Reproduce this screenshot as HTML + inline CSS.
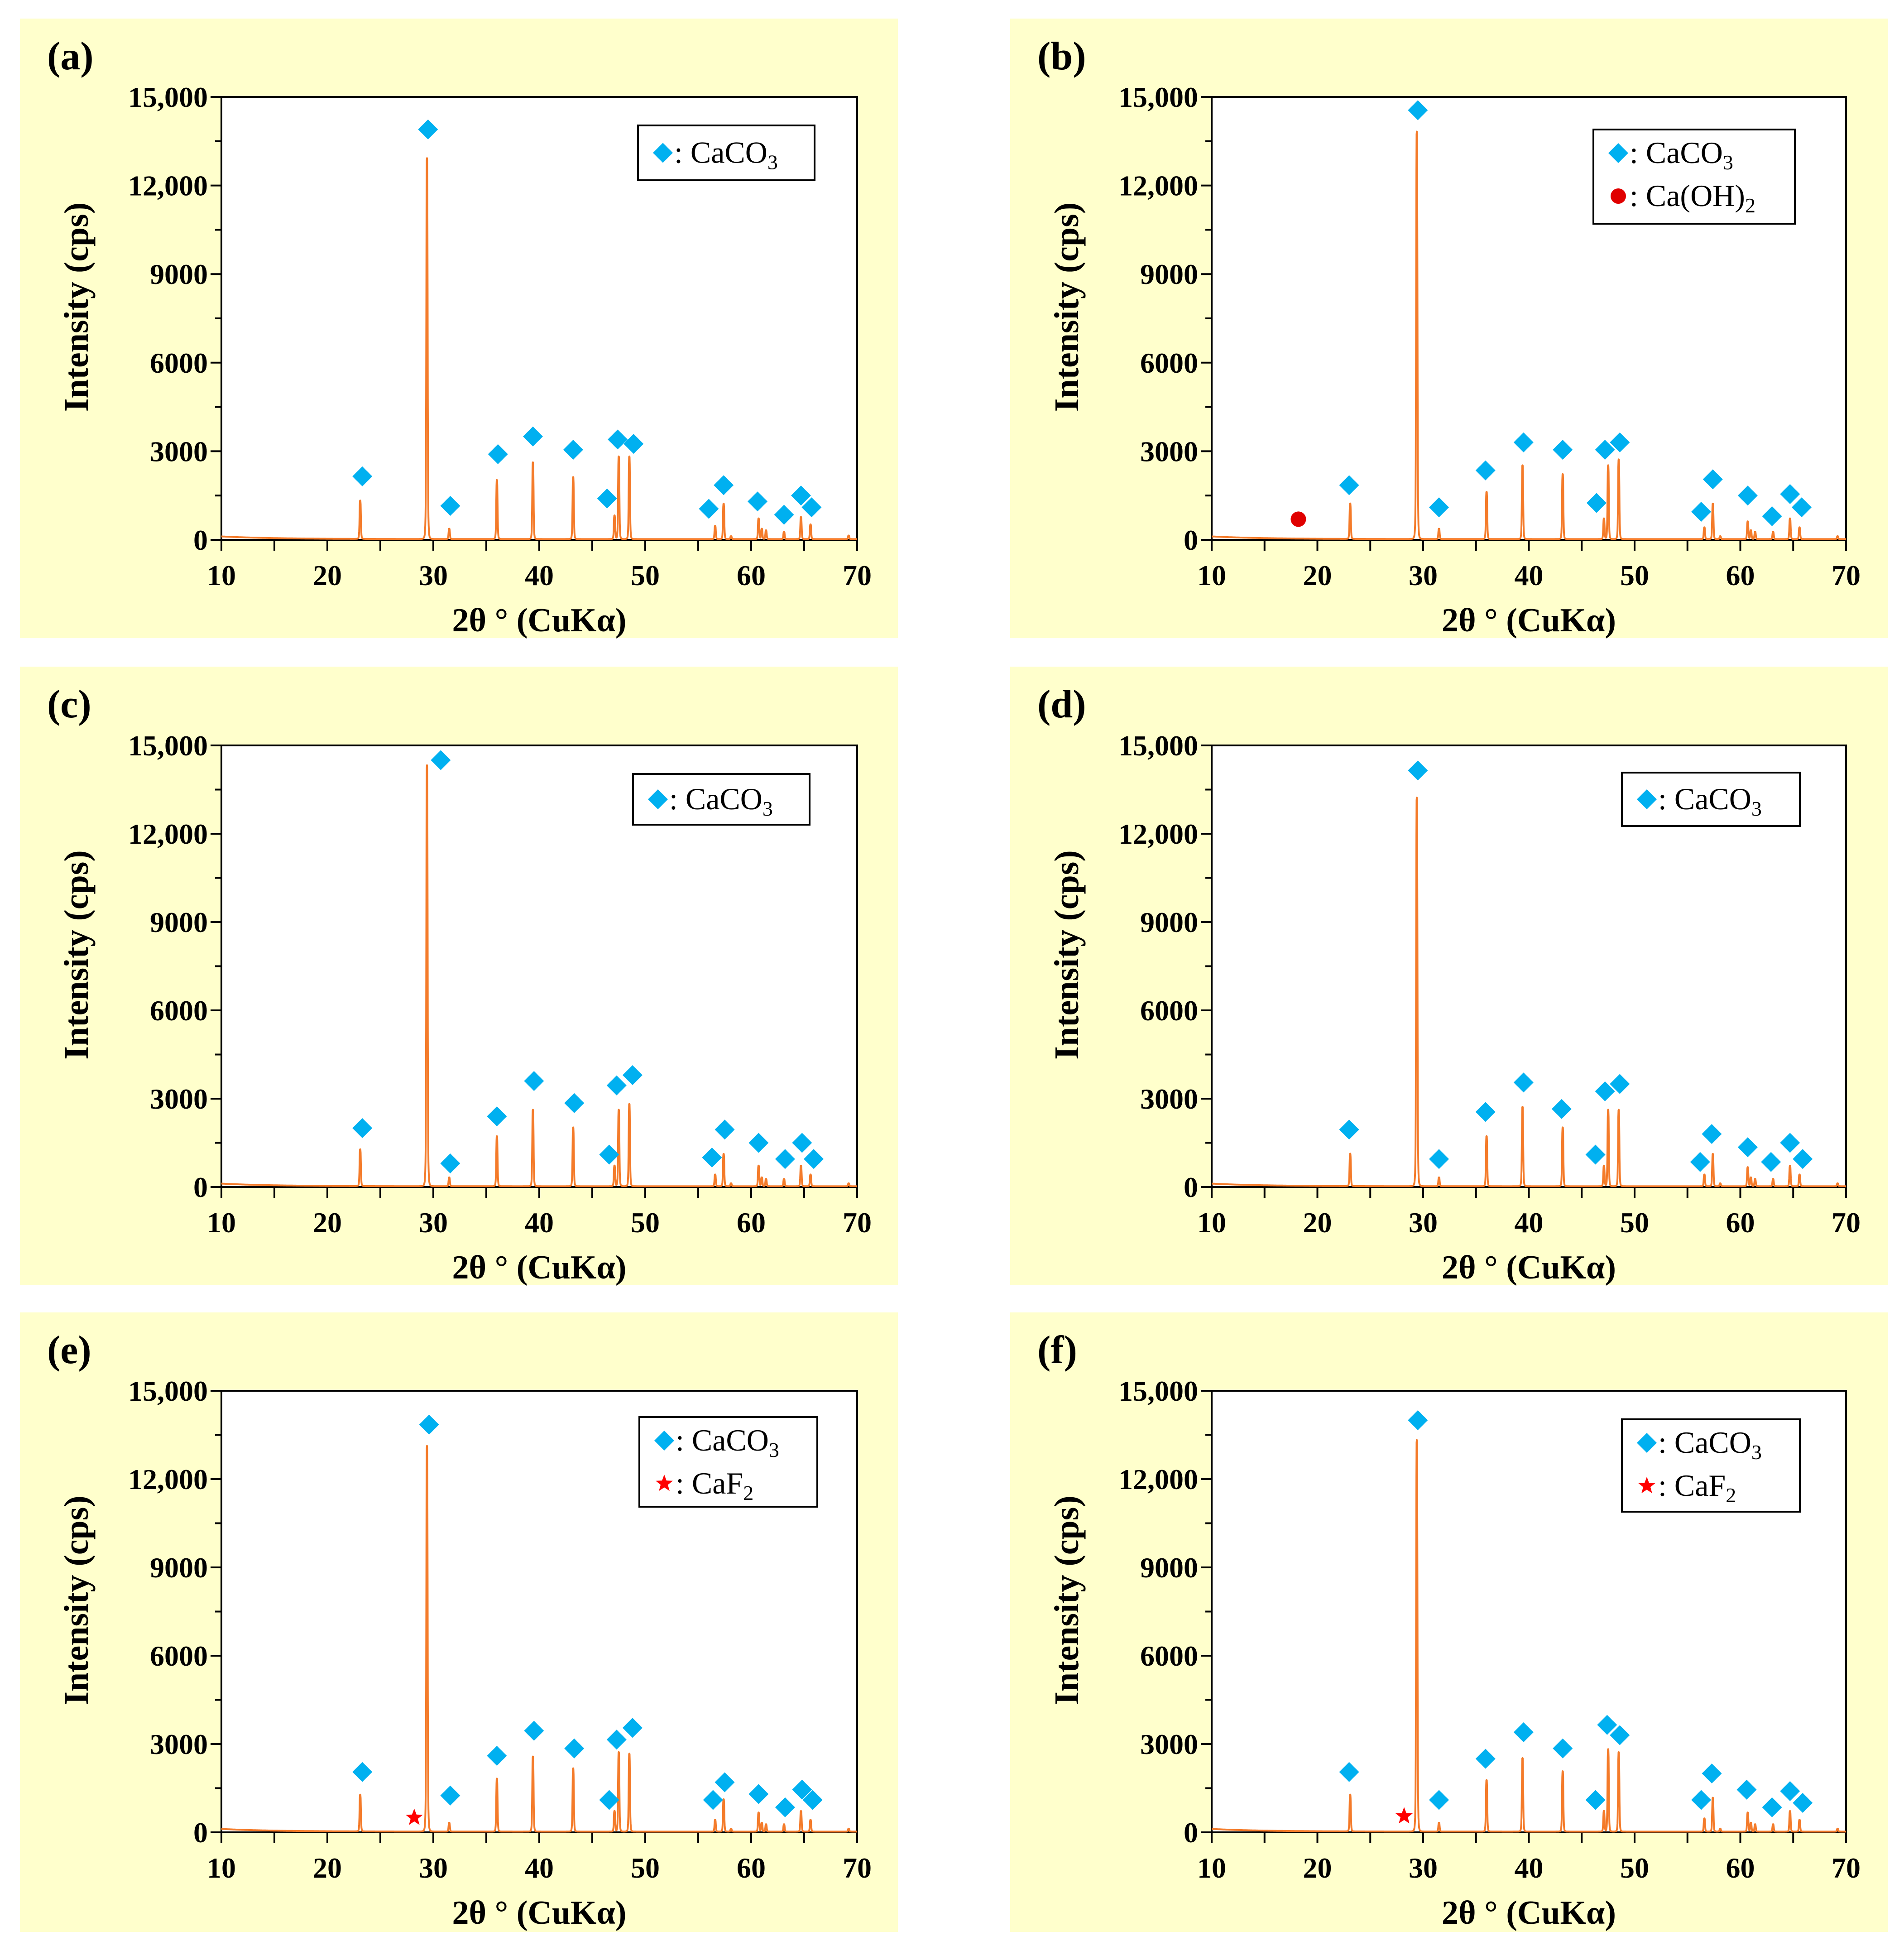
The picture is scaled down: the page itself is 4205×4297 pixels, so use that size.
<!DOCTYPE html>
<html><head><meta charset="utf-8"><style>
html,body{margin:0;padding:0;background:#fff}
svg{display:block}
svg text{font-family:"Liberation Serif","DejaVu Serif",serif !important}
</style></head><body>
<svg id="fig" width="4205" height="4297" viewBox="0 0 4205 4297" xmlns="http://www.w3.org/2000/svg" font-family="Liberation Serif, serif"></svg>
<script>
// ---- data ----
const panelLabels = ["(a)","(b)","(c)","(d)","(e)","(f)"];
const xTicks = [10,20,30,40,50,60,70];
const yTicks = [0,3000,6000,9000,12000,15000];
const yTickLabels = ["0","3000","6000","9000","12,000","15,000"];
const peakPos = [23.1,29.4,31.5,36.0,39.4,43.2,47.1,47.5,48.5,56.6,57.4,58.1,60.7,61.0,61.4,63.1,64.7,65.6,69.2];
const peaksA = [1300,12900,350,2000,2600,2100,800,2800,2800,450,1200,100,700,350,300,250,750,500,120];
const peaksB = [1200,13800,350,1600,2500,2200,700,2500,2700,400,1200,100,600,300,250,250,700,400,100];
const peaksC = [1250,14300,300,1700,2600,2000,700,2600,2800,400,1100,100,700,300,250,250,700,400,100];
const peaksD = [1100,13200,300,1700,2700,2000,700,2600,2600,400,1100,100,650,300,250,250,700,400,100];
const peaksE = [1250,13100,300,1800,2550,2150,700,2700,2650,400,1100,100,650,300,250,250,700,400,100];
const peaksF = [1250,13300,300,1750,2500,2050,700,2800,2700,450,1150,100,650,300,250,250,700,400,100];
const markA = [[23.3,2150],[29.5,13900],[31.6,1150],[36.1,2900],[39.4,3500],[43.2,3050],[46.4,1400],[47.4,3400],[48.9,3250],[56.0,1050],[57.4,1850],[60.6,1300],[63.1,850],[64.7,1500],[65.7,1100]];
const markB = [[23.0,1850],[29.5,14550],[31.5,1100],[35.9,2350],[39.5,3300],[43.2,3050],[46.4,1250],[47.2,3050],[48.6,3300],[56.3,950],[57.4,2050],[60.7,1500],[63.0,800],[64.7,1550],[65.8,1100]];
const markC = [[23.3,2000],[30.7,14500],[31.6,800],[36.0,2400],[39.5,3600],[43.3,2850],[46.6,1100],[47.3,3450],[48.8,3800],[56.3,1000],[57.5,1950],[60.7,1500],[63.2,950],[64.8,1500],[65.9,950]];
const markD = [[23.0,1950],[29.5,14150],[31.5,950],[35.9,2550],[39.5,3550],[43.1,2650],[46.3,1100],[47.2,3250],[48.6,3500],[56.2,850],[57.3,1800],[60.7,1350],[62.9,850],[64.7,1500],[65.9,950]];
const markE = [[23.3,2050],[29.6,13850],[31.6,1250],[36.0,2600],[39.5,3450],[43.3,2850],[46.6,1100],[47.3,3150],[48.8,3550],[56.4,1100],[57.5,1700],[60.7,1300],[63.2,850],[64.8,1450],[65.8,1100]];
const markF = [[23.0,2050],[29.5,14000],[31.5,1100],[35.9,2500],[39.5,3400],[43.2,2850],[46.3,1100],[47.4,3650],[48.6,3300],[56.3,1100],[57.3,2000],[60.6,1450],[63.0,850],[64.7,1400],[65.9,1000]];
const circleB = [[18.2,700]];
const starE = [[28.2,500]];
const starF = [[28.2,550]];

const NS="http://www.w3.org/2000/svg";
const FF="Liberation Serif, serif";
const svg=document.getElementById('fig');
function mk(tag,attrs,parent){const e=document.createElementNS(NS,tag);for(const k in attrs)e.setAttribute(k,attrs[k]);if(tag==='text')e.setAttribute('font-family',FF);(parent||svg).appendChild(e);return e;}

const colX=[{bg:44,bgw:1939,px:489,pw:1404},{bg:2231,bgw:1939,px:2676,pw:1401}];
const rowY=[{bg:41,bgh:1368,py:214,ph:978},{bg:1472,bgh:1366,py:1646,ph:975},{bg:2898,bgh:1368,py:3071,ph:975}];
const panels=[
 {peaks:peaksA,marks:markA,leg:[1409,277,390,121],items:[["d","CaCO","3"]]},
 {peaks:peaksB,marks:markB,extra:circleB,extraType:"c",leg:[3519,286,445,208],items:[["d","CaCO","3"],["c","Ca(OH)","2"]]},
 {peaks:peaksC,marks:markC,leg:[1398,1709,390,112],items:[["d","CaCO","3"]]},
 {peaks:peaksD,marks:markD,leg:[3582,1706,393,118],items:[["d","CaCO","3"]]},
 {peaks:peaksE,marks:markE,extra:starE,extraType:"s",leg:[1412,3129,393,198],items:[["d","CaCO","3"],["s","CaF","2"]]},
 {peaks:peaksF,marks:markF,extra:starF,extraType:"s",leg:[3582,3134,393,204],items:[["d","CaCO","3"],["s","CaF","2"]]}
];
function diamond(g,cx,cy,r){return mk('polygon',{points:`${cx},${cy-r} ${cx+r},${cy} ${cx},${cy+r} ${cx-r},${cy}`,fill:'#00B0F0'},g);}
function star(g,cx,cy,r){let pts=[];for(let i=0;i<10;i++){const a=-Math.PI/2+i*Math.PI/5;const rr=i%2?r*0.42:r;pts.push((cx+rr*Math.cos(a)).toFixed(1)+','+(cy+rr*Math.sin(a)).toFixed(1));}return mk('polygon',{points:pts.join(' '),fill:'#FF0000'},g);}
function sym(g,t,cx,cy){if(t==='d')return diamond(g,cx,cy,22);if(t==='c')return mk('circle',{cx:cx,cy:cy,r:17,fill:'#E00000'},g);return star(g,cx,cy,20);}

panels.forEach((P,i)=>{
 const C=colX[i%2],R=rowY[Math.floor(i/2)];
 const g=mk('g',{});
 
 
 const bg=mk('rect',{x:C.bg,y:R.bg,width:C.bgw,height:R.bgh,fill:'#FFFFCC'},g);
 
 const X=v=>C.px+(v-10)/60*C.pw, Y=v=>R.py+R.ph-(v/15000)*R.ph;
 const pa=mk('rect',{x:C.px,y:R.py,width:C.pw,height:R.ph,fill:'#fff',stroke:'#000','stroke-width':4},g);
 
 const lab=mk('text',{x:C.bg+60,y:R.bg+112,'font-size':88,'font-weight':'bold'},g);lab.textContent=panelLabels[i];
 
 for(let v=0;v<=15000;v+=1500){const y=Y(v);mk('line',{x1:C.px-(v%3000?14:24),x2:C.px,y1:y,y2:y,stroke:'#000','stroke-width':4},g);}
 yTicks.forEach((v,k)=>{const t=mk('text',{x:C.px-30,y:Y(v)+22,'font-size':64,'font-weight':'bold','text-anchor':'end'},g);t.textContent=yTickLabels[k];});
 for(let v=10;v<=70;v+=5){const x=X(v);mk('line',{x1:x,x2:x,y1:R.py+R.ph,y2:R.py+R.ph+24,stroke:'#000','stroke-width':4},g);}
 xTicks.forEach(v=>{const t=mk('text',{x:X(v),y:R.py+R.ph+100,'font-size':64,'font-weight':'bold','text-anchor':'middle'},g);t.textContent=v;});
 const xt=mk('text',{x:C.px+C.pw/2,y:R.py+R.ph+202,'font-size':74,'font-weight':'bold','text-anchor':'middle'},g);xt.textContent='2θ ° (CuKα)';
 
 const yc=R.py+R.ph/2-25;
 const yt=mk('text',{x:C.bg+150,y:yc,'font-size':76,'font-weight':'bold','text-anchor':'middle',transform:`rotate(-90 ${C.bg+150} ${yc})`},g);yt.textContent='Intensity (cps)';
 
 let d='';
 for(let x=10;x<=70.0001;x+=0.02){let y=25+90*Math.exp(-(x-10)/5);P.peaks.forEach((h,k)=>{const u=(x-peakPos[k])/0.07;y+=h/(1+u*u*u*u);});d+=(d?'L':'M')+X(x).toFixed(1)+','+Y(y).toFixed(1);}
 const line=mk('path',{d:d,fill:'none',stroke:'#F47B2A','stroke-width':4,'stroke-linejoin':'round'},g);
 
 P.marks.forEach(m=>{const s=diamond(g,X(m[0]),Y(m[1]),22);});
 if(P.extra)P.extra.forEach(m=>{const s=sym(g,P.extraType,X(m[0]),Y(m[1]));});
 const L=P.leg;
 const lg=mk('g',{},g);
 mk('rect',{x:L[0],y:L[1],width:L[2],height:L[3],fill:'#fff',stroke:'#000','stroke-width':4},lg);
 P.items.forEach((it,k)=>{
  const cy=L[1]+(P.items.length===1?L[3]/2:52+k*95);
  sym(lg,it[0],L[0]+55,cy);
  const t=mk('text',{x:L[0]+80,y:cy+22,'font-size':68},lg);
  
  t.appendChild(document.createTextNode(': '+it[1]));
  const sub=mk('tspan',{'font-size':46,dy:14},t);sub.textContent=it[2];
 });
});
</script>
</body></html>
